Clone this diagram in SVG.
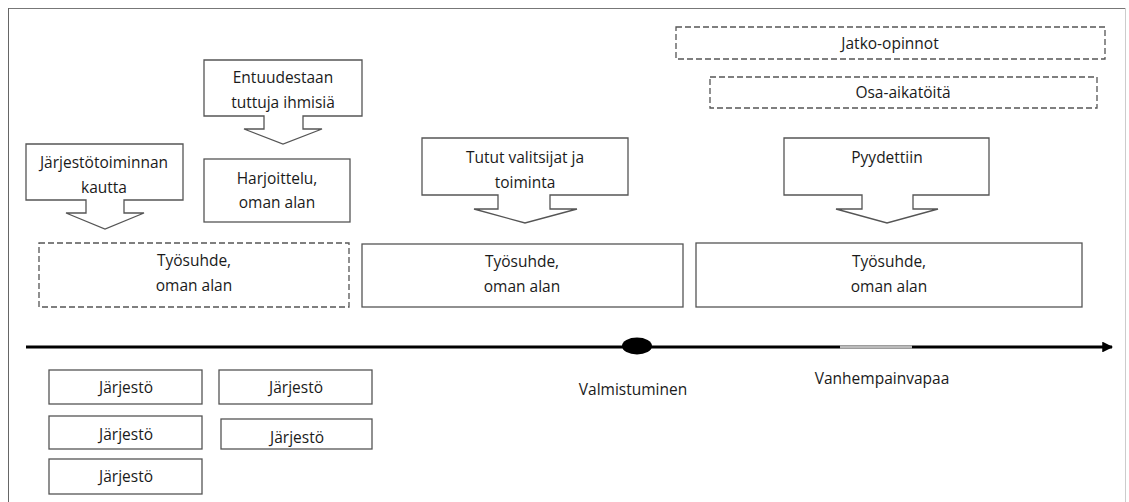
<svg xmlns="http://www.w3.org/2000/svg" width="1129" height="502" viewBox="0 0 1129 502">
<style>
.box{fill:#fff;stroke:#555;stroke-width:1.3}
.dash{fill:#fff;stroke:#555;stroke-width:1.3;stroke-dasharray:6,3}
text{font-family:"Open Sans","Noto Sans","Liberation Sans",sans-serif;font-size:15.5px;fill:#1a1a1a;text-anchor:middle}
</style>
<defs>
<marker id="ah" viewBox="0 0 10 10" refX="9" refY="5" markerWidth="3.8" markerHeight="3.6" orient="auto" markerUnits="strokeWidth">
<path d="M0,0 L10,5 L0,10 Z" fill="#000"/>
</marker>
</defs>
<rect width="1129" height="502" fill="#fff"/>
<g id="frame">
<line x1="8" y1="8.5" x2="1125" y2="8.5" stroke="#777" stroke-width="1"/>
<line x1="8.5" y1="8" x2="8.5" y2="502" stroke="#666" stroke-width="1"/>
<line x1="1125.5" y1="8" x2="1125.5" y2="502" stroke="#ccc" stroke-width="1"/>
</g>
<g id="connectors">
<line x1="26" y1="347" x2="1112" y2="347" stroke="#000" stroke-width="3" marker-end="url(#ah)"/>
<line x1="840" y1="347" x2="912" y2="347" stroke="#bbb" stroke-width="3.2"/>
<ellipse cx="637" cy="346" rx="15" ry="8.5" fill="#000"/>
</g>
<g id="entuudestaan">
<path class="box" d="M204,60 H362 V116 H303 V129 H322 L283,144 L244,129 H264 V116 H204 Z"/>
<text x="283" y="83">Entuudestaan</text>
<text x="283" y="108">tuttuja ihmisiä</text>
</g>
<g id="jarjestotoiminnan">
<path class="box" d="M26,144 H183 V200 H124 V213 H144 L105,229 L66,213 H86 V200 H26 Z"/>
<text x="104" y="168">Järjestötoiminnan</text>
<text x="104" y="193">kautta</text>
</g>
<g id="harjoittelu">
<rect class="box" x="204" y="159" width="146" height="63"/>
<text x="277" y="184">Harjoittelu,</text>
<text x="277" y="208">oman alan</text>
</g>
<g id="tutut">
<path class="box" d="M422,138 H628 V195 H550 V209 H577 L525,223 L474,209 H498 V195 H422 Z"/>
<text x="525" y="163">Tutut valitsijat ja</text>
<text x="525" y="188">toiminta</text>
</g>
<g id="pyydettiin">
<path class="box" d="M784,138 H989 V195 H913 V209 H938 L887,223 L836,209 H862 V195 H784 Z"/>
<text x="887" y="163">Pyydettiin</text>
</g>
<g id="jatko">
<rect class="dash" x="676" y="27" width="429" height="32"/>
<text x="890" y="49">Jatko-opinnot</text>
</g>
<g id="osa">
<rect class="dash" x="710" y="77" width="387" height="31"/>
<text x="903" y="98">Osa-aikatöitä</text>
</g>
<g id="tyosuhde1">
<rect class="dash" x="39" y="243" width="310" height="64"/>
<text x="194" y="266">Työsuhde,</text>
<text x="194" y="291">oman alan</text>
</g>
<g id="tyosuhde2">
<rect class="box" x="362" y="244" width="321" height="63"/>
<text x="522" y="267">Työsuhde,</text>
<text x="522" y="292">oman alan</text>
</g>
<g id="tyosuhde3">
<rect class="box" x="696" y="243" width="386" height="64"/>
<text x="889" y="267">Työsuhde,</text>
<text x="889" y="292">oman alan</text>
</g>
<g id="valmistuminen">
<text x="633" y="395">Valmistuminen</text>
</g>
<g id="vanhempainvapaa">
<text x="882" y="384">Vanhempainvapaa</text>
</g>
<g id="jarjesto1">
<rect class="box" x="49" y="370" width="153" height="34"/>
<text x="126" y="393">Järjestö</text>
</g>
<g id="jarjesto2">
<rect class="box" x="219" y="370" width="153" height="34"/>
<text x="296" y="393">Järjestö</text>
</g>
<g id="jarjesto3">
<rect class="box" x="49" y="416" width="153" height="33"/>
<text x="126" y="440">Järjestö</text>
</g>
<g id="jarjesto4">
<rect class="box" x="221" y="419" width="151" height="30"/>
<text x="297" y="443">Järjestö</text>
</g>
<g id="jarjesto5">
<rect class="box" x="49" y="459" width="153" height="35"/>
<text x="126" y="482">Järjestö</text>
</g>
</svg>
